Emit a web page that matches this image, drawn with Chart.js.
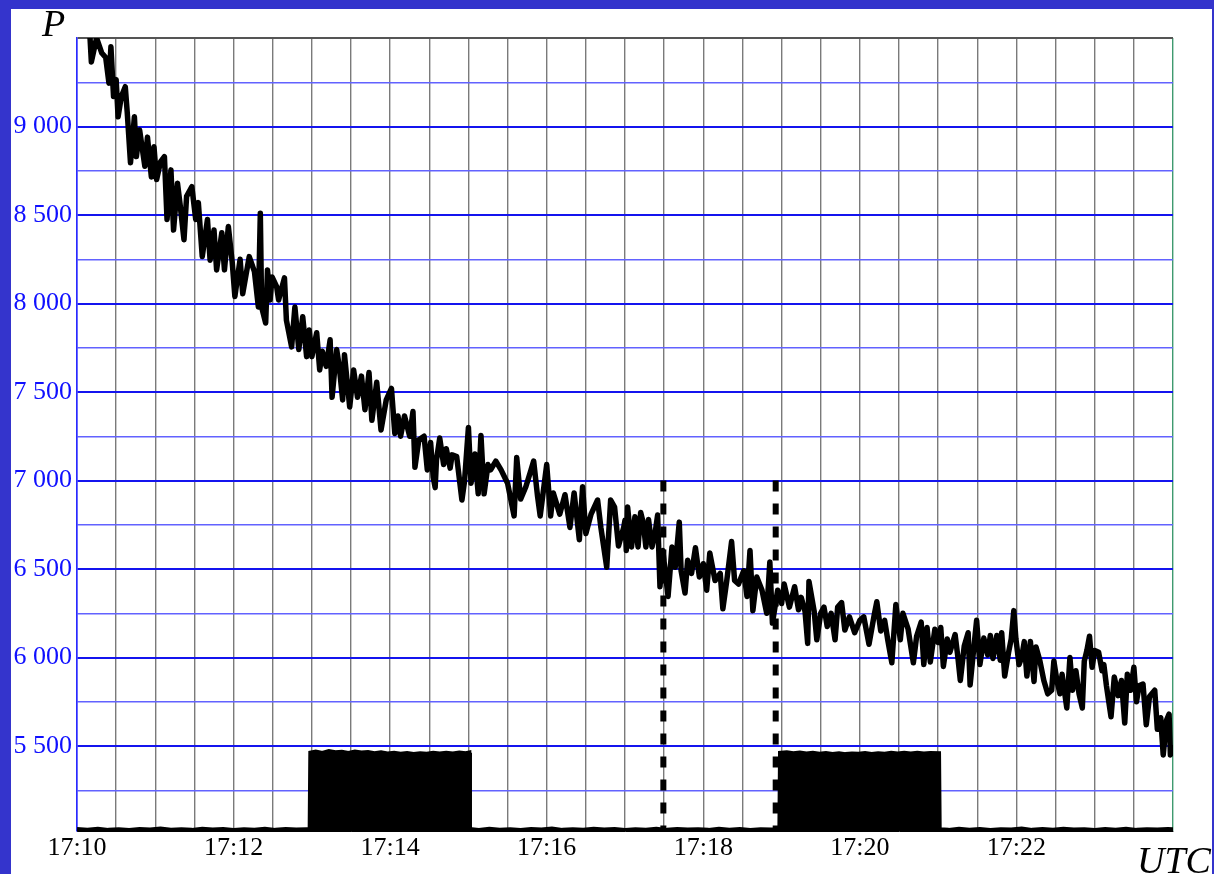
<!DOCTYPE html>
<html>
<head>
<meta charset="utf-8">
<script src="https://cdn.jsdelivr.net/npm/chart.js@4.4.1/dist/chart.umd.min.js"></script>
<style>
    html, body { margin: 0; padding: 0; width: 1214px; height: 874px; overflow: hidden; background: #3434cc; }
    #panel { position: absolute; left: 11px; top: 9px; width: 1201px; height: 865px; background: #ffffff; }
</style>
</head>
<body>
<div id="panel"><canvas id="chart" width="1201" height="865"></canvas></div>
<script>
// Tiempo en segundos desde las 17:10:00 (UTC)
const pTime = [
    10, 11, 15, 19, 22, 24.5, 26, 28, 30, 31.5, 34, 37, 38.5, 41, 44, 45.5, 48, 52, 54, 57, 59, 61, 64, 67, 69, 72, 74, 77, 79, 82,
    84, 88, 91, 93, 96, 100, 102, 105, 107, 111, 113, 116, 119, 121, 125, 127, 132, 136, 139, 140.5, 141.5, 144.6, 146, 148, 149.5, 153, 154.5, 159, 160.5, 164.5,
    167, 170, 173, 176, 178, 180, 183.7, 186, 188, 191, 194, 195.5, 199, 201, 203.6, 205, 209, 212, 215, 218, 220.7, 223.8, 226, 229.7, 233, 237, 241, 243.6, 246, 248,
    251, 255, 257.5, 259, 262, 266, 268.5, 271, 273, 274.5, 275.5, 278, 281, 283, 286, 287.5, 291, 295, 297, 300, 302, 305, 307.5, 309.6, 312, 315, 317, 321, 325, 330,
    335, 337, 340, 344, 348, 350, 353, 355, 360, 363, 365, 370, 374, 377.8, 381, 385, 387.5, 390, 394, 399, 401.5, 406, 409, 412, 415, 419, 420, 421, 422, 425,
    427.6, 430, 432, 434, 436, 438, 440.7, 443, 445, 446.8, 449, 453, 456, 458.5, 461.6, 463, 466, 468, 471, 474, 477, 480, 482.6, 485, 489, 493, 495, 498, 501.7, 504,
    507, 511, 513.5, 515.8, 518, 521, 525, 528.6, 531, 533, 537, 540, 542, 546, 550, 553, 555, 558, 560, 561, 565, 567, 570, 572.5, 575, 578, 581, 583, 586, 588.5,
    592, 596, 600, 603, 607, 611, 613, 616, 619, 621.5, 624.5, 627.6, 631, 633, 637, 641, 643.5, 647, 649, 651.5, 654, 657.5, 660, 662, 664, 667, 669, 673, 675, 677,
    680, 683, 684.5, 687, 689.5, 692, 695, 698, 700, 702, 705, 707.6, 708.7, 711, 714, 716, 718, 719.6, 722, 724, 726, 728, 730.7, 733.5, 735, 738, 741, 744, 747, 748.7,
    751, 753.4, 755, 758.6, 761, 763, 765.6, 768, 770.5, 772, 774, 776, 778, 780, 783, 785.6, 787, 789, 792.5, 795, 798, 800.5, 803, 805, 807.5, 810, 812, 814, 817, 819.5,
    822, 826, 828, 830.6, 832.5, 835, 837, 838, 840
];
const pValue = [
    9500, 9365, 9500, 9415, 9390, 9245, 9450, 9170, 9265, 9055, 9170, 9225, 9080, 8795, 9055, 8830, 8980, 8775, 8940, 8715, 8885, 8700, 8800, 8830, 8475, 8755, 8415, 8680, 8560, 8360,
    8605, 8660, 8475, 8570, 8265, 8475, 8245, 8415, 8190, 8400, 8190, 8435, 8230, 8040, 8250, 8055, 8265, 8180, 7980, 8510, 7980, 7890, 8190, 8020, 8150, 8095, 8020, 8145, 7905, 7755,
    7980, 7740, 7925, 7700, 7850, 7700, 7835, 7625, 7730, 7645, 7795, 7470, 7740, 7645, 7455, 7710, 7415, 7625, 7470, 7590, 7400, 7610, 7340, 7555, 7285, 7455, 7520, 7265, 7365, 7250,
    7365, 7250, 7390, 7075, 7230, 7250, 7060, 7215, 7020, 6960, 7115, 7240, 7090, 7180, 7070, 7145, 7135, 6890, 6995, 7300, 6985, 7150, 6925, 7255, 6925, 7090, 7060, 7110, 7060, 6985,
    6800, 7130, 6895, 6965, 7060, 7110, 6910, 6800, 7090, 6800, 6930, 6810, 6920, 6735, 6930, 6665, 6965, 6700, 6810, 6890, 6735, 6510, 6890, 6850, 6630, 6735, 6775, 6605, 6850, 6625,
    6795, 6625, 6820, 6760, 6625, 6780, 6625, 6700, 6805, 6400, 6605, 6345, 6625, 6510, 6765, 6490, 6365, 6550, 6475, 6620, 6455, 6530, 6380, 6590, 6435, 6475, 6275, 6435, 6655, 6435,
    6415, 6490, 6345, 6605, 6265, 6455, 6380, 6250, 6540, 6195, 6380, 6305, 6415, 6285, 6400, 6270, 6340, 6260, 6080, 6430, 6260, 6100, 6250, 6285, 6175, 6250, 6100, 6285, 6310, 6155,
    6230, 6140, 6210, 6230, 6075, 6240, 6315, 6150, 6210, 6095, 5970, 6300, 6100, 6250, 6160, 5970, 6120, 6200, 5960, 6170, 5975, 6160, 6085, 6170, 5950, 6105, 6030, 6130, 6010, 5870,
    6065, 6140, 5845, 6030, 6210, 5960, 6110, 6015, 6125, 5995, 6125, 5985, 6140, 5895, 6030, 6105, 6265, 6105, 5960, 6000, 6090, 5895, 6090, 5865, 6060, 5980, 5870, 5795, 5815, 5980,
    5870, 5795, 5905, 5715, 6000, 5815, 5925, 5795, 5715, 5980, 6040, 6120, 5945, 6040, 6030, 5925, 5960, 5840, 5665, 5890, 5785, 5870, 5630, 5905, 5815, 5945, 5750, 5840, 5850, 5620,
    5780, 5815, 5595, 5660, 5450, 5645, 5680, 5450, 5490
];

// Señal de control (parte inferior)
const ctrlTime = [
    0, 8, 16, 24, 32, 40, 48, 56, 64, 72, 80, 88, 96, 104, 112, 120, 128, 136, 144, 152, 160, 168, 176, 178.5,
    179, 183, 188, 193, 198, 203, 208, 213, 218, 223, 228, 233, 238, 243, 248, 253, 258, 263, 268, 273, 278, 283, 288, 293, 298, 300.5,
    301, 308, 316, 324, 332, 340, 348, 356, 364, 372, 380, 388, 396, 404, 412, 420, 428, 436, 444, 452, 460, 468, 476, 484, 492, 500, 508, 516, 524, 532, 538.5,
    539, 544, 549, 554, 559, 564, 569, 574, 579, 584, 589, 594, 599, 604, 609, 614, 619, 624, 629, 634, 639, 644, 649, 654, 660.5,
    661, 668, 676, 684, 692, 700, 708, 716, 724, 732, 740, 748, 756, 764, 772, 780, 788, 796, 804, 812, 820, 828, 836, 840
];
const ctrlValue = [
    5030, 5026, 5031, 5025, 5029, 5024, 5030, 5027, 5032, 5026, 5029, 5025, 5031, 5027, 5030, 5024, 5029, 5026, 5031, 5025, 5030, 5027, 5029, 5028,
    5462, 5468, 5460, 5470, 5463, 5466, 5460, 5467, 5462, 5465, 5458, 5463, 5457, 5460, 5455, 5459, 5454, 5458, 5455, 5460, 5456, 5461, 5457, 5462, 5458, 5462,
    5030, 5025, 5031, 5026, 5029, 5024, 5030, 5027, 5032, 5025, 5029, 5026, 5031, 5027, 5030, 5024, 5029, 5026, 5031, 5025, 5030, 5027, 5029, 5025, 5031, 5026, 5030, 5024, 5029, 5027, 5028,
    5460, 5464, 5458, 5462, 5456, 5461, 5455, 5459, 5454, 5458, 5453, 5457, 5455, 5459, 5454, 5458, 5455, 5460, 5456, 5461, 5457, 5460, 5456, 5459, 5458,
    5029, 5025, 5031, 5026, 5030, 5024, 5029, 5027, 5032, 5025, 5030, 5026, 5031, 5027, 5029, 5024, 5030, 5026, 5031, 5025, 5029, 5027, 5030, 5028
];

// Líneas verticales discontinuas (segundos desde 17:10)
const markerTimes = [449.4, 535.5];
const markerTop = 7000;

// Ejes
const yMin = 5020;
const yMax = 9500;
const yGridValues = [5250, 5500, 5750, 6000, 6250, 6500, 6750, 7000, 7250, 7500, 7750, 8000, 8250, 8500, 8750, 9000, 9250, 9500];
const yLabelValues = [5500, 6000, 6500, 7000, 7500, 8000, 8500, 9000];
const xMax = 840;
const xGridStep = 30;
const xLabelValues = [0, 120, 240, 360, 480, 600, 720];

const serif = "'Liberation Serif', 'DejaVu Serif', serif";

const mainData = pTime.map((t, i) => ({ x: t, y: pValue[i] }));
const ctrlData = ctrlTime.map((t, i) => ({ x: t, y: ctrlValue[i] }));

const markerSets = markerTimes.map(t => ({
    data: [{ x: t, y: markerTop }, { x: t, y: yMin }],
    borderColor: '#000000',
    borderWidth: 6,
    borderDash: [11, 12],
    pointRadius: 0,
    fill: false
}));

// Rótulos "P" y "UTC"
const axisTitles = {
    id: 'axisTitles',
    afterDraw(chart) {
        const ctx = chart.ctx;
        ctx.save();
        ctx.fillStyle = '#000000';
        ctx.font = 'italic 38px ' + serif;
        ctx.textBaseline = 'alphabetic';
        ctx.textAlign = 'left';
        ctx.fillText('P', 31, 27);
        ctx.fillText('UTC', 1126, 864);
        ctx.restore();
    }
};

function fmtY(v) {
    const miles = Math.floor(v / 1000);
    const resto = String(v % 1000).padStart(3, '0');
    return miles + ' ' + resto;
}

function fmtX(v) {
    const min = 10 + v / 60;
    return '17:' + String(min).padStart(2, '0');
}

new Chart(document.getElementById('chart').getContext('2d'), {
    type: 'line',
    data: {
        datasets: [
            {
                data: mainData,
                borderColor: '#000000',
                borderWidth: 5.5,
                borderJoinStyle: 'round',
                borderCapStyle: 'round',
                pointRadius: 0,
                tension: 0,
                fill: false
            },
            ...markerSets,
            {
                data: ctrlData,
                borderColor: '#000000',
                backgroundColor: '#000000',
                borderWidth: 4.5,
                pointRadius: 0,
                tension: 0,
                fill: 'start'
            }
        ]
    },
    options: {
        responsive: false,
        animation: false,
        layout: { padding: { top: 29, right: 39, left: 0, bottom: 0 } },
        plugins: {
            legend: { display: false },
            tooltip: { enabled: false }
        },
        scales: {
            x: {
                type: 'linear',
                min: 0,
                max: xMax,
                afterBuildTicks: scale => {
                    const ticks = [];
                    for (let v = 0; v <= xMax; v += xGridStep) ticks.push({ value: v });
                    scale.ticks = ticks;
                },
                afterFit: scale => { scale.height = 43; },
                grid: {
                    drawTicks: false,
                    color: c => c.tick && c.tick.value === 0 ? '#2a2aff' : (c.tick && c.tick.value === xMax ? '#3f9a6f' : '#7a7a7a'),
                    lineWidth: 1.4
                },
                border: { color: '#000000', width: 1 },
                ticks: {
                    autoSkip: false,
                    maxRotation: 0,
                    padding: 2,
                    color: '#000000',
                    font: { family: serif, size: 26 },
                    callback: v => xLabelValues.includes(v) ? fmtX(v) : ''
                }
            },
            y: {
                min: yMin,
                max: yMax,
                afterBuildTicks: scale => {
                    scale.ticks = yGridValues.map(v => ({ value: v }));
                },
                afterFit: scale => { scale.width = 66; },
                grid: {
                    drawTicks: false,
                    color: c => {
                        const v = c.tick ? c.tick.value : 0;
                        if (v === yMax) return '#555555';
                        return v % 500 === 0 ? '#1414ee' : '#6262ff';
                    },
                    lineWidth: c => {
                        const v = c.tick ? c.tick.value : 0;
                        return v % 500 === 0 ? 2 : 1.4;
                    }
                },
                border: { color: '#2a2aff', width: 1.5 },
                ticks: {
                    padding: 5,
                    color: '#1010ff',
                    font: { family: serif, size: 26 },
                    callback: v => yLabelValues.includes(v) ? fmtY(v) : ''
                }
            }
        }
    },
    plugins: [axisTitles]
});
</script>
</body>
</html>
